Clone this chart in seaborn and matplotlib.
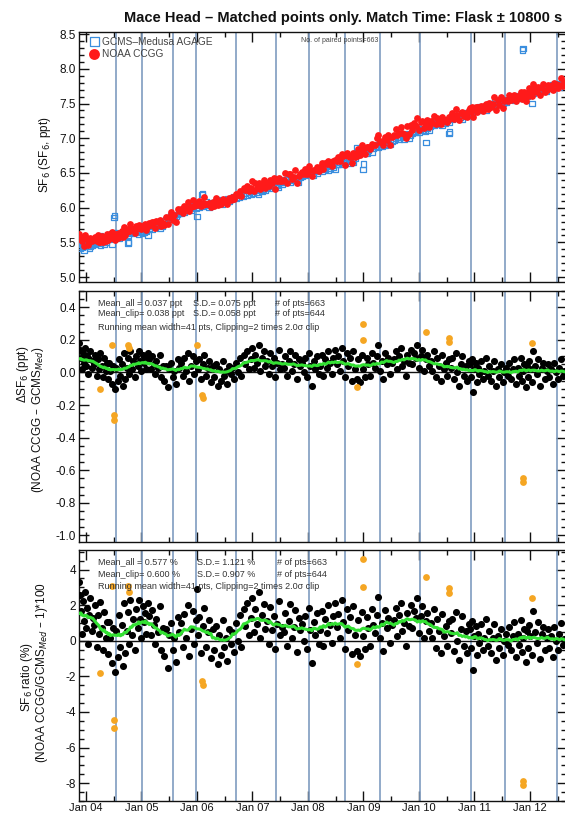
import numpy as np
import pandas as pd
import matplotlib
matplotlib.use("Agg")
import matplotlib.pyplot as plt
from matplotlib.ticker import MultipleLocator, FixedLocator, NullFormatter, FormatStrFormatter
import seaborn as sns

# ---------------------------------------------------------------------------
# Matched flask samples: date (decimal year), GCMS-Medusa SF6 (ppt) and
# NOAA CCGG minus GCMS-Medusa difference (ppt)
# ---------------------------------------------------------------------------
flask_dates = [
    2003.88, 2003.89, 2003.91, 2003.92, 2003.94, 2003.96, 2003.98, 2004.00, 2004.02, 2004.04, 2004.06, 2004.08, 2004.10, 2004.12,
    2004.14, 2004.16, 2004.19, 2004.21, 2004.23, 2004.26, 2004.28, 2004.31, 2004.33, 2004.36, 2004.38,
    2004.40, 2004.42, 2004.44, 2004.47, 2004.49, 2004.52, 2004.54, 2004.57, 2004.59, 2004.62,
    2004.64, 2004.66, 2004.69, 2004.71, 2004.73, 2004.76, 2004.78, 2004.80, 2004.83, 2004.85, 2004.88,
    2004.90, 2004.93, 2004.95, 2004.97, 2005.00, 2005.02, 2005.05, 2005.07, 2005.09, 2005.12,
    2005.14, 2005.17, 2005.19, 2005.22, 2005.24, 2005.27, 2005.30, 2005.33, 2005.35, 2005.38,
    2005.41, 2005.44, 2005.47, 2005.50, 2005.53, 2005.56, 2005.59, 2005.62, 2005.65, 2005.68,
    2005.71, 2005.74, 2005.77, 2005.80, 2005.83, 2005.86, 2005.89, 2005.92, 2005.95, 2005.98,
    2006.01, 2006.04, 2006.07, 2006.10, 2006.13, 2006.16, 2006.19, 2006.22, 2006.25, 2006.28,
    2006.31, 2006.34, 2006.37, 2006.40, 2006.43, 2006.46, 2006.49, 2006.52, 2006.55, 2006.58, 2006.61,
    2006.64, 2006.67, 2006.70, 2006.74, 2006.77, 2006.80, 2006.84, 2006.87, 2006.90, 2006.94,
    2006.97, 2007.00, 2007.02, 2007.05, 2007.08, 2007.11, 2007.14, 2007.17, 2007.20, 2007.23,
    2007.26, 2007.29, 2007.32, 2007.35, 2007.38, 2007.41, 2007.44, 2007.47, 2007.50, 2007.53,
    2007.56, 2007.59, 2007.62, 2007.65, 2007.68, 2007.71, 2007.74, 2007.77, 2007.80, 2007.83, 2007.86,
    2007.89, 2007.92, 2007.95, 2007.98, 2008.01, 2008.04, 2008.07, 2008.10, 2008.13, 2008.16, 2008.19,
    2008.22, 2008.25, 2008.28, 2008.31, 2008.34, 2008.37, 2008.40, 2008.43, 2008.46, 2008.49, 2008.52,
    2008.55, 2008.58, 2008.61, 2008.64, 2008.67, 2008.70, 2008.73, 2008.76, 2008.79, 2008.82, 2008.85,
    2008.88, 2008.91, 2008.94, 2008.97, 2009.00, 2009.03, 2009.06, 2009.09, 2009.12, 2009.15, 2009.18,
    2009.21, 2009.24, 2009.27, 2009.30, 2009.33, 2009.36, 2009.39, 2009.42, 2009.45, 2009.48, 2009.51,
    2009.55, 2009.58, 2009.61, 2009.64, 2009.67, 2009.70, 2009.73, 2009.76, 2009.79, 2009.82, 2009.85,
    2009.88, 2009.91, 2009.94, 2009.97, 2010.00, 2010.03, 2010.06, 2010.09, 2010.12, 2010.15, 2010.18,
    2010.21, 2010.24, 2010.27, 2010.30, 2010.33, 2010.36, 2010.39, 2010.42, 2010.45, 2010.48, 2010.51, 2010.54,
    2010.57, 2010.60, 2010.63, 2010.66, 2010.69, 2010.72, 2010.75, 2010.78, 2010.81, 2010.84, 2010.87, 2010.90,
    2010.92, 2010.94, 2010.96, 2010.98, 2011.00, 2011.02, 2011.04, 2011.07, 2011.09, 2011.12, 2011.15, 2011.18, 2011.21, 2011.24,
    2011.27, 2011.30, 2011.33, 2011.36, 2011.39, 2011.42, 2011.45, 2011.48, 2011.51, 2011.54, 2011.57, 2011.60,
    2011.63, 2011.66, 2011.69, 2011.72, 2011.75, 2011.78, 2011.81, 2011.84, 2011.86, 2011.88, 2011.90, 2011.93, 2011.95,
    2011.97, 2011.99, 2012.01, 2012.03, 2012.06, 2012.09, 2012.12, 2012.15, 2012.18, 2012.21, 2012.24, 2012.27, 2012.30,
    2012.32, 2012.35, 2012.38, 2012.41, 2012.44, 2012.47, 2012.50, 2012.53, 2012.56, 2012.59, 2012.62,
]

gcms_sf6 = [
    5.44, 5.41, 5.47, 5.50, 5.43, 5.39, 5.46, 5.52, 5.45, 5.48, 5.42, 5.44, 5.49, 5.46,
    5.50, 5.47, 5.54, 5.52, 5.49, 5.46, 5.55, 5.53, 5.48, 5.51, 5.56,
    5.58, 5.55, 5.61, 5.63, 5.57, 5.64, 5.59, 5.62, 5.56, 5.60,
    5.62, 5.66, 5.60, 5.65, 5.63, 5.61, 5.67, 5.64, 5.68, 5.63, 5.66,
    5.64, 5.67, 5.62, 5.66, 5.69, 5.63, 5.65, 5.68, 5.66, 5.61,
    5.70, 5.73, 5.69, 5.75, 5.72, 5.74, 5.77, 5.71, 5.76, 5.74,
    5.80, 5.83, 5.86, 5.84, 5.88, 5.85, 5.89, 5.87, 5.90, 5.92,
    5.92, 5.95, 5.94, 5.98, 5.96, 6.00, 5.97, 6.01, 6.03, 5.99,
    6.04, 6.01, 6.06, 6.02, 6.05, 6.08, 6.03, 6.00, 6.07, 6.04,
    6.06, 6.09, 6.12, 6.07, 6.10, 6.05, 6.11, 6.08, 6.13, 6.10, 6.12,
    6.13, 6.16, 6.14, 6.18, 6.15, 6.19, 6.17, 6.21, 6.18, 6.22,
    6.20, 6.23, 6.21, 6.25, 6.22, 6.19, 6.26, 6.24, 6.27, 6.25,
    6.29, 6.32, 6.28, 6.31, 6.34, 6.30, 6.33, 6.29, 6.36, 6.34,
    6.37, 6.40, 6.38, 6.42, 6.36, 6.41, 6.39, 6.43, 6.40, 6.37, 6.44,
    6.46, 6.49, 6.47, 6.51, 6.48, 6.50, 6.53, 6.47, 6.52, 6.49, 6.54,
    6.55, 6.53, 6.58, 6.56, 6.60, 6.54, 6.57, 6.61, 6.58, 6.55, 6.62,
    6.63, 6.66, 6.62, 6.68, 6.65, 6.67, 6.70, 6.64, 6.69, 6.66, 6.71,
    6.79, 6.77, 6.82, 6.80, 6.84, 6.81, 6.78, 6.83, 6.86, 6.80, 6.85,
    6.88, 6.91, 6.87, 6.93, 6.89, 6.94, 6.90, 6.92, 6.95, 6.91, 6.96,
    6.97, 7.00, 7.02, 6.98, 7.01, 7.04, 6.99, 7.03, 7.06, 7.00, 7.05,
    7.07, 7.10, 7.08, 7.12, 7.09, 7.13, 7.11, 7.14, 7.10, 7.15, 7.12,
    7.18, 7.21, 7.19, 7.23, 7.20, 7.22, 7.25, 7.19, 7.24, 7.21, 7.26, 7.23,
    7.29, 7.27, 7.32, 7.30, 7.33, 7.35, 7.31, 7.28, 7.34, 7.32, 7.36, 7.33,
    7.38, 7.41, 7.37, 7.43, 7.40, 7.39, 7.44, 7.42, 7.45, 7.40, 7.43, 7.46, 7.41, 7.44,
    7.47, 7.50, 7.48, 7.52, 7.49, 7.53, 7.51, 7.55, 7.50, 7.54, 7.52, 7.56,
    7.56, 7.59, 7.57, 7.55, 7.61, 7.58, 7.60, 7.57, 7.62, 7.59, 7.61, 7.63, 7.60,
    7.64, 7.66, 7.69, 7.67, 7.65, 7.70, 7.68, 7.66, 7.71, 7.69, 7.72, 7.70, 7.68,
    7.72, 7.75, 7.73, 7.77, 7.74, 7.78, 7.76, 7.74, 7.79, 7.77, 7.80,
]

noaa_minus_gcms = [
    0.18, 0.14, 0.09, 0.02, 0.12, 0.06, 0.15, 0.04, 0.10, -0.01, 0.08, 0.13, 0.03, 0.07,
    0.05, 0.11, -0.02, 0.08, 0.02, 0.12, 0.04, -0.03, 0.09, 0.01, 0.06,
    -0.04, 0.06, 0.01, -0.07, 0.04, -0.10, 0.03, -0.05, 0.08, -0.02,
    0.05, -0.08, 0.12, -0.04, 0.03, 0.09, -0.01, 0.13, 0.02, 0.07, -0.03,
    0.10, 0.04, 0.13, 0.07, 0.01, 0.11, 0.06, 0.09, 0.02, 0.12,
    0.08, 0.02, 0.10, 0.05, -0.01, 0.07, 0.03, 0.11, -0.03, 0.04,
    -0.05, 0.04, -0.09, 0.02, 0.06, -0.03, 0.01, -0.07, 0.08, 0.03,
    0.06, -0.02, 0.09, 0.01, 0.12, -0.05, 0.04, 0.10, -0.01, 0.07,
    0.02, 0.08, -0.04, 0.05, 0.11, -0.02, 0.03, 0.07, -0.06, 0.04,
    -0.03, 0.05, -0.08, 0.02, -0.05, 0.07, -0.02, 0.01, -0.07, 0.04, -0.01,
    0.03, -0.04, 0.06, 0.00, 0.09, -0.02, 0.11, 0.05, 0.13, 0.02,
    0.08, 0.15, 0.03, 0.11, 0.06, 0.17, 0.01, 0.09, 0.13, 0.04,
    0.07, -0.01, 0.12, 0.04, 0.09, -0.03, 0.06, 0.14, 0.02, 0.05,
    0.03, 0.10, -0.02, 0.07, 0.13, 0.01, 0.05, 0.11, -0.04, 0.08, 0.04,
    0.06, 0.00, 0.09, -0.03, 0.12, 0.04, -0.08, 0.07, 0.02, 0.10, -0.01,
    0.04, 0.11, -0.02, 0.08, 0.03, 0.13, 0.06, -0.01, 0.09, 0.14, 0.05,
    0.10, 0.01, 0.15, 0.07, -0.03, 0.12, 0.04, 0.09, -0.05, 0.13, 0.02,
    -0.04, 0.08, -0.06, 0.11, 0.02, -0.03, 0.09, 0.05, -0.02, 0.12, 0.06,
    0.03, 0.10, 0.17, 0.01, 0.07, -0.04, 0.12, 0.05, 0.09, -0.01, 0.06,
    0.08, 0.13, 0.02, 0.10, 0.15, 0.04, 0.07, -0.02, 0.11, 0.06, 0.14,
    0.05, 0.12, 0.09, 0.17, 0.03, 0.10, 0.14, 0.01, 0.08, 0.11, 0.04,
    0.07, 0.01, 0.13, -0.03, 0.09, 0.04, -0.05, 0.11, 0.02, 0.06, -0.02, 0.08,
    0.03, 0.09, -0.04, 0.12, 0.00, -0.08, 0.05, 0.10, -0.02, 0.04, -0.05, 0.07,
    0.05, -0.03, 0.08, -0.12, 0.02, 0.06, -0.06, 0.03, -0.01, 0.07, -0.04, 0.01, 0.09, -0.02,
    0.04, -0.05, 0.01, 0.07, -0.08, 0.02, -0.03, 0.05, -0.06, 0.00, 0.03, -0.02,
    0.06, -0.04, 0.02, 0.08, -0.07, 0.03, -0.02, 0.09, -0.05, 0.01, 0.05, -0.09, 0.04,
    -0.03, 0.07, 0.02, -0.06, 0.13, 0.04, -0.01, 0.08, -0.08, 0.03, 0.06, -0.04, 0.01,
    0.05, -0.03, 0.02, -0.07, 0.06, 0.00, -0.04, 0.03, 0.08, -0.02, 0.01,
]

# Samples rejected by the 2 x 2-sigma clipping
clip_dates = [2004.25, 2004.47, 2004.50, 2004.51, 2004.76, 2004.77, 2006.00, 2006.09, 2006.10,
              2008.88, 2008.99, 2009.00, 2010.13, 2010.54, 2010.55, 2011.87, 2011.88, 2012.04]
clip_gcms = [5.60, 5.48, 5.86, 5.89, 5.49, 5.51, 5.87, 6.19, 6.20,
             6.86, 6.55, 6.63, 6.94, 7.07, 7.09, 8.27, 8.29, 7.50]
clip_diff = [-0.10, 0.17, -0.26, -0.29, 0.17, 0.15, 0.17, -0.14, -0.155,
             -0.09, 0.30, 0.20, 0.25, 0.21, 0.19, -0.65, -0.67, 0.18]
clip_in_ratio = [True, True, True, True, True, True, False, True, True,
                 True, True, True, True, True, True, True, True, True]

# Dates of instrument / calibration changes (vertical markers)
change_dates = [2004.54, 2005.01, 2005.57, 2005.98, 2006.70, 2007.42, 2008.02,
                2008.67, 2009.30, 2010.02, 2010.94, 2011.55, 2012.49]

year_ticks = [2004, 2005, 2006, 2007, 2008, 2009, 2010, 2011, 2012]
year_labels = ["Jan 04", "Jan 05", "Jan 06", "Jan 07", "Jan 08",
               "Jan 09", "Jan 10", "Jan 11", "Jan 12"]

diff_stats = [("Mean_all = 0.037 ppt", "S.D.= 0.075 ppt", "# of pts=663"),
              ("Mean_clip= 0.038 ppt", "S.D.= 0.058 ppt", "# of pts=644")]
ratio_stats = [("Mean_all = 0.577 %", "S.D.= 1.121 %", "# of pts=663"),
               ("Mean_clip= 0.600 %", "S.D.= 0.907 %", "# of pts=644")]
running_note = "Running mean width=41 pts, Clipping=2 times 2.0\u03c3 clip"
paired_note = "No. of paired points=663"

# ---------------------------------------------------------------------------
# Derived quantities
# ---------------------------------------------------------------------------
main = pd.DataFrame({"date": flask_dates, "gcms": gcms_sf6, "diff": noaa_minus_gcms})
main["noaa"] = main["gcms"] + main["diff"]
main["ratio"] = main["diff"] / main["gcms"] * 100.0

clip = pd.DataFrame({"date": clip_dates, "gcms": clip_gcms, "diff": clip_diff,
                     "in_ratio": clip_in_ratio})
clip["noaa"] = clip["gcms"] + clip["diff"]
clip["ratio"] = clip["diff"] / clip["gcms"] * 100.0

allpts = pd.concat([main, clip], ignore_index=True).sort_values("date")


def running_mean(t, v, half_width=0.27):
    """Centred running mean over a fixed time window (~41 flasks wide)."""
    t = np.asarray(t, float)
    v = np.asarray(v, float)
    return np.array([v[np.abs(t - ti) <= half_width].mean() for ti in t])


main = main.sort_values("date")
main["diff_rm"] = running_mean(main["date"], main["diff"])
ratio_ok = pd.concat([main[["date", "ratio"]],
                      clip.loc[~clip["in_ratio"], ["date", "ratio"]]]).sort_values("date")
ratio_ok["ratio_rm"] = running_mean(ratio_ok["date"], ratio_ok["ratio"])

# ---------------------------------------------------------------------------
# Figure
# ---------------------------------------------------------------------------
sns.set_style("ticks")
plt.rcParams["font.family"] = ["Liberation Sans", "DejaVu Sans"]
plt.rcParams["axes.linewidth"] = 1.0

W, H = 565, 814
fig = plt.figure(figsize=(W / 100, H / 100), dpi=100)


def px_axes(left, top, right, bottom):
    return fig.add_axes([left / W, 1 - bottom / H, (right - left) / W, (bottom - top) / H])


ax1 = px_axes(79, 32, 566, 282)
ax2 = px_axes(79, 291, 566, 542)
ax3 = px_axes(79, 550, 566, 801)

XLIM = (2003.874, 2012.65)
RED = "#ff1a1a"
BLUE = "#3a8ede"
ORANGE = "#f5a623"
GREEN = "#33e033"
VLINE = "#7f9cc0"
TXT = "#333333"

for ax in (ax1, ax2, ax3):
    for d in change_dates:
        ax.axvline(d, color=VLINE, lw=1.2, zorder=1)
    ax.set_xlim(*XLIM)
    ax.xaxis.set_major_locator(FixedLocator(year_ticks))
    ax.xaxis.set_minor_locator(FixedLocator([y + 0.5 for y in year_ticks]))
    ax.tick_params(which="both", direction="in", top=True, right=True, width=1.0,
                   labelsize=8.5, pad=2, colors="#111111")
    ax.tick_params(which="major", length=7)
    ax.tick_params(which="minor", length=3.5)
    for sp in ax.spines.values():
        sp.set_color("#111111")

# --- top panel: mixing ratios ---
sns.scatterplot(x=allpts["date"], y=allpts["gcms"], ax=ax1, marker="s", s=16,
                color=BLUE, facecolor="none", edgecolor=BLUE, linewidth=0.9,
                label="GCMS\u2013Medusa AGAGE", zorder=3)
sns.scatterplot(x=allpts["date"], y=allpts["noaa"], ax=ax1, marker="o", s=24,
                color=RED, edgecolor=RED, linewidth=0, label="NOAA CCGG", zorder=4)
ax1.set_ylim(4.93, 8.53)
ax1.yaxis.set_major_locator(MultipleLocator(0.5))
ax1.yaxis.set_minor_locator(MultipleLocator(0.1))
ax1.yaxis.set_major_formatter(FormatStrFormatter("%.1f"))
ax1.xaxis.set_major_formatter(NullFormatter())
leg = ax1.legend(loc="upper left", bbox_to_anchor=(0.021, 0.982), frameon=False,
                 fontsize=7.3, markerscale=1.6, handletextpad=0.3, borderaxespad=0,
                 labelspacing=0.2, handlelength=1.0, borderpad=0)
for t in leg.get_texts():
    t.set_color("#444444")
ax1.text(0.455, 0.965, paired_note, transform=ax1.transAxes, fontsize=5,
         color="#444444", ha="left", va="center")
ax1.set_xlabel("")
ax1.set_ylabel("")

# --- middle panel: differences ---
ax2.axhline(0, color="#111111", lw=1.0, zorder=2)
sns.scatterplot(x=main["date"], y=main["diff"], ax=ax2, color="black", s=26,
                linewidth=0, zorder=3)
sns.scatterplot(x=clip["date"], y=clip["diff"], ax=ax2, color=ORANGE, s=24,
                linewidth=0, zorder=3)
sns.lineplot(x=main["date"], y=main["diff_rm"], ax=ax2, color=GREEN, lw=2.2,
             estimator=None, sort=True, zorder=5)
ax2.set_ylim(-1.04, 0.50)
ax2.yaxis.set_major_locator(MultipleLocator(0.2))
ax2.yaxis.set_minor_locator(MultipleLocator(0.05))
ax2.yaxis.set_major_formatter(FormatStrFormatter("%.1f"))
ax2.xaxis.set_major_formatter(NullFormatter())
ax2.set_xlabel("")
ax2.set_ylabel("")

# --- bottom panel: percent ratio ---
ax3.axhline(0, color="#111111", lw=1.0, zorder=2)
sns.scatterplot(x=ratio_ok["date"], y=ratio_ok["ratio"], ax=ax3, color="black", s=26,
                linewidth=0, zorder=3)
clip_r = clip[clip["in_ratio"]]
sns.scatterplot(x=clip_r["date"], y=clip_r["ratio"], ax=ax3, color=ORANGE, s=24,
                linewidth=0, zorder=3)
sns.lineplot(x=ratio_ok["date"], y=ratio_ok["ratio_rm"], ax=ax3, color=GREEN, lw=2.2,
             estimator=None, sort=True, zorder=5)
ax3.set_ylim(-9.0, 5.1)
ax3.yaxis.set_major_locator(MultipleLocator(2))
ax3.yaxis.set_minor_locator(MultipleLocator(0.5))
ax3.yaxis.set_major_formatter(FormatStrFormatter("%d"))
ax3.set_xticks(year_ticks)
ax3.set_xticklabels(year_labels)
ax3.tick_params(axis="x", which="major", labelsize=8, pad=1.5)
ax3.set_xlabel("")
ax3.set_ylabel("")


# statistics blocks
def stats_block(ax, rows, xs, ys):
    for row, y in zip(rows, ys[:2]):
        for txt, x in zip(row, xs):
            ax.text(x, y, txt, transform=ax.transAxes, fontsize=6.5, color=TXT,
                    ha="left", va="center", zorder=6)
    ax.text(xs[0], ys[2], running_note, transform=ax.transAxes, fontsize=6.5,
            color=TXT, ha="left", va="center", zorder=6)


stats_block(ax2, diff_stats, (0.039, 0.234, 0.402), (0.952, 0.911, 0.855))
stats_block(ax3, ratio_stats, (0.039, 0.242, 0.407), (0.952, 0.901, 0.853))

# titles and axis labels
fig.text(343 / W, 1 - 18 / H,
         "Mace Head \u2013 Matched points only. Match Time: Flask \u00b1 10800 s",
         ha="center", va="center", fontsize=10.5, fontweight="bold", color="#111111")
fig.text(45 / W, 1 - 155 / H, "SF$_6$ (SF$_6$, ppt)", rotation=90, ha="center",
         va="center", fontsize=8.5, color="#111111")
fig.text(23 / W, 1 - 374 / H, "\u0394SF$_6$ (ppt)", rotation=90, ha="center",
         va="center", fontsize=8.5, color="#111111")
fig.text(38 / W, 1 - 420 / H, "(NOAA CCGG \u2013 GCMS$_{Med}$)", rotation=90,
         ha="center", va="center", fontsize=8.5, color="#111111")
fig.text(27 / W, 1 - 677 / H, "SF$_6$ ratio (%)", rotation=90, ha="center",
         va="center", fontsize=8.5, color="#111111")
fig.text(42 / W, 1 - 673 / H, "(NOAA CCGG/GCMS$_{Med}$ \u2013 1)*100", rotation=90,
         ha="center", va="center", fontsize=8.5, color="#111111")

fig.savefig("out.png", dpi=100)
